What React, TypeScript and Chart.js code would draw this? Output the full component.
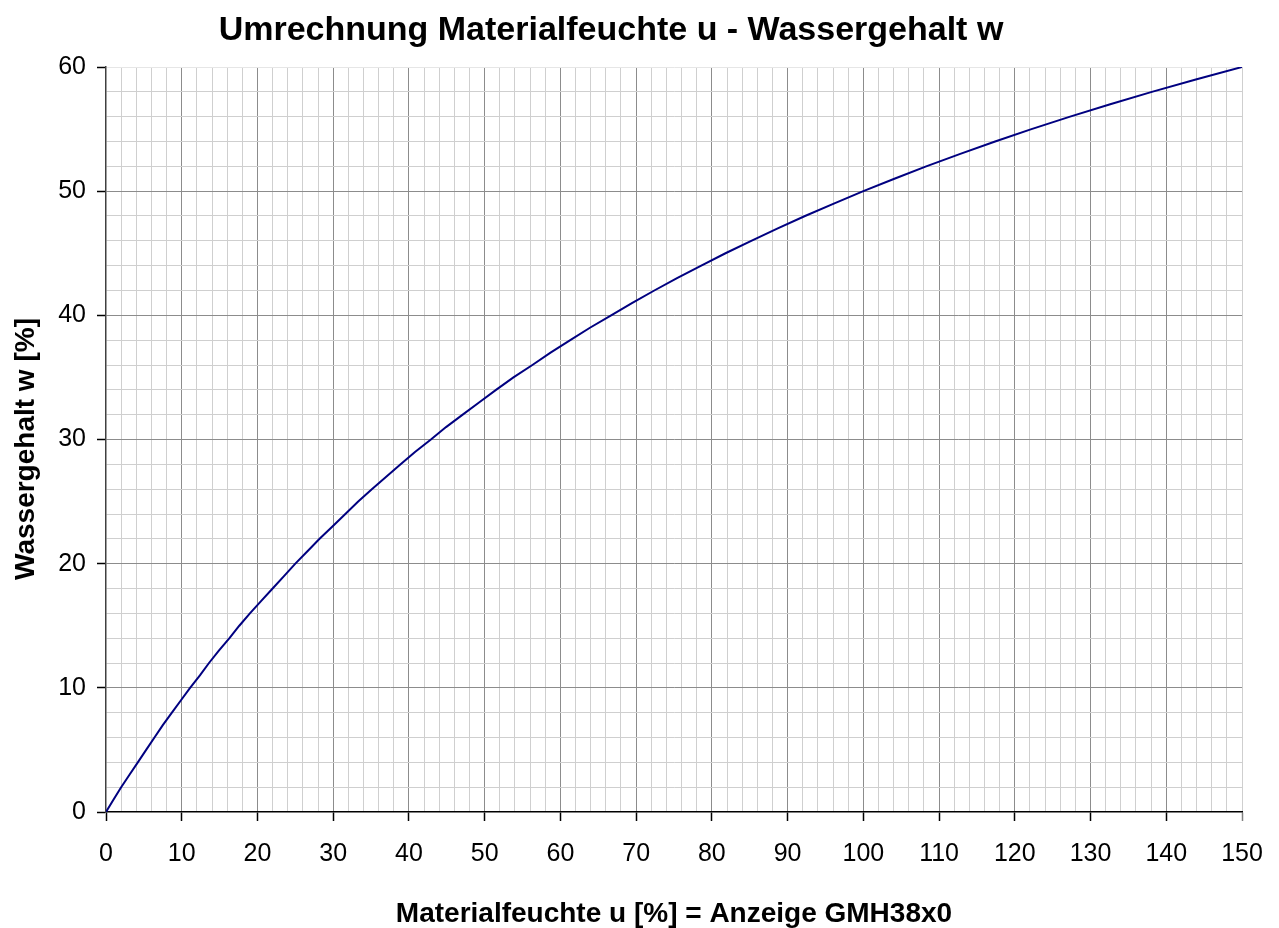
import React, { useEffect, useRef } from "react";
import { Chart, registerables } from "chart.js";

Chart.register(...registerables);

const TITLE = "Umrechnung Materialfeuchte u - Wassergehalt w";
const X_TITLE = "Materialfeuchte u [%] = Anzeige GMH38x0";
const Y_TITLE = "Wassergehalt w [%]";

// Materialfeuchte u [%]
const U_VALUES = [
  0, 1.0, 2.0, 3.1, 4.2, 5.3, 6.4, 7.5, 8.7, 9.9,
  11.1, 12.4, 13.6, 14.9, 16.3, 17.6, 19.0, 20.5, 22.0, 23.5,
  25.0, 26.6, 28.2, 29.9, 31.6, 33.3, 35.1, 37.0, 38.9, 40.8,
  42.9, 44.9, 47.1, 49.3, 51.5, 53.8, 56.3, 58.7, 61.3, 63.9,
  66.7, 69.5, 72.4, 75.4, 78.6, 81.8, 85.2, 88.7, 92.3, 96.1,
  100.0, 104.1, 108.3, 112.8, 117.4, 122.2, 127.3, 132.6, 138.1, 143.9,
  150.0,
];
// Wassergehalt w [%]
const W_VALUES = [
  0, 1, 2, 3, 4, 5, 6, 7, 8, 9,
  10, 11, 12, 13, 14, 15, 16, 17, 18, 19,
  20, 21, 22, 23, 24, 25, 26, 27, 28, 29,
  30, 31, 32, 33, 34, 35, 36, 37, 38, 39,
  40, 41, 42, 43, 44, 45, 46, 47, 48, 49,
  50, 51, 52, 53, 54, 55, 56, 57, 58, 59,
  60,
];

const X_MIN = 0;
const X_MAX = 150;
const Y_MIN = 0;
const Y_MAX = 60;
const MINOR_STEP = 2;
const MAJOR_STEP = 10;

const FONT = '"Liberation Sans", Arial, sans-serif';
const MAJOR_GRID = "#8c8c8c";
const MINOR_GRID = "#cfcfcf";

const titlePlugin = {
  id: "customTitles",
  afterDraw(chart: any) {
    const ctx = chart.ctx;
    ctx.save();
    ctx.fillStyle = "#000";
    ctx.textAlign = "center";
    ctx.textBaseline = "alphabetic";
    ctx.font = `bold 34px ${FONT}`;
    ctx.fillText(TITLE, 611, 40);
    ctx.translate(26, 449);
    ctx.rotate(-Math.PI / 2);
    ctx.textBaseline = "middle";
    ctx.font = `bold 28px ${FONT}`;
    ctx.fillText(Y_TITLE, 0, 0);
    ctx.restore();
  },
};

const isMajor = (v: number) => Math.abs(v % MAJOR_STEP) < 1e-6;

export default function App() {
  const ref = useRef<HTMLCanvasElement | null>(null);

  useEffect(() => {
    if (!ref.current) return;
    const points = U_VALUES.map((u, i) => ({ x: u, y: W_VALUES[i] }));
    const chart = new Chart(ref.current, {
      type: "scatter",
      data: {
        datasets: [
          {
            data: points,
            showLine: true,
            borderColor: "#000080",
            backgroundColor: "#000080",
            borderWidth: 2,
            pointRadius: 0,
            tension: 0,
          },
        ],
      },
      options: {
        responsive: false,
        animation: false,
        layout: { padding: { top: 67, right: 37, bottom: 0, left: 0 } },
        plugins: {
          legend: { display: false },
          tooltip: { enabled: false },
          title: { display: false },
        },
        scales: {
          x: {
            type: "linear",
            min: X_MIN,
            max: X_MAX,
            afterFit: (s: any) => {
              s.height = 116;
              s.paddingLeft = 0;
              s.paddingRight = 0;
            },
            border: { display: true, color: "#000", width: 1.5 },
            grid: {
              color: (c: any) => {
                const v = c.tick?.value ?? 0;
                if (v === X_MIN) return "rgba(0,0,0,0)";
                if (v === X_MAX) return MINOR_GRID;
                return isMajor(v) ? MAJOR_GRID : MINOR_GRID;
              },
              lineWidth: 1,
              drawTicks: true,
              tickLength: 9,
              tickColor: (c: any) => {
                const v = c.tick?.value ?? 0;
                if (v === X_MAX) return "#808080";
                return isMajor(v) ? "#000" : "rgba(0,0,0,0)";
              },
              tickWidth: 1.5,
            },
            ticks: {
              stepSize: MINOR_STEP,
              autoSkip: false,
              maxRotation: 0,
              padding: 18,
              color: "#000",
              font: { family: FONT, size: 25 },
              callback: (v: any) => (isMajor(Number(v)) ? String(v) : ""),
            },
            title: {
              display: true,
              text: X_TITLE,
              color: "#000",
              font: { family: FONT, size: 28, weight: "bold", lineHeight: 1 },
              padding: { top: 0, bottom: 0 },
            },
          },
          y: {
            type: "linear",
            min: Y_MIN,
            max: Y_MAX,
            afterFit: (s: any) => {
              s.width = 106;
              s.paddingTop = 0;
              s.paddingBottom = 0;
            },
            border: { display: true, color: "#404040", width: 1.5 },
            grid: {
              color: (c: any) => {
                const v = c.tick?.value ?? 0;
                if (v === Y_MIN) return "rgba(0,0,0,0)";
                if (v === Y_MAX) return "#e6e6e6";
                return isMajor(v) ? MAJOR_GRID : MINOR_GRID;
              },
              lineWidth: 1,
              drawTicks: true,
              tickLength: 9,
              tickColor: (c: any) => {
                const v = c.tick?.value ?? 0;
                return isMajor(v) ? "#000" : "rgba(0,0,0,0)";
              },
              tickWidth: 1.5,
            },
            ticks: {
              stepSize: MINOR_STEP,
              autoSkip: false,
              padding: 11,
              color: "#000",
              font: { family: FONT, size: 25 },
              callback: (v: any) => (isMajor(Number(v)) ? String(v) : ""),
            },
            title: { display: false },
          },
        },
      },
      plugins: [titlePlugin],
    });
    return () => chart.destroy();
  }, []);

  return (
    <div style={{ position: "absolute", left: 0, top: 0, width: 1279, height: 928, background: "#fff" }}>
      <canvas ref={ref} width={1279} height={928} style={{ display: "block" }} />
    </div>
  );
}
